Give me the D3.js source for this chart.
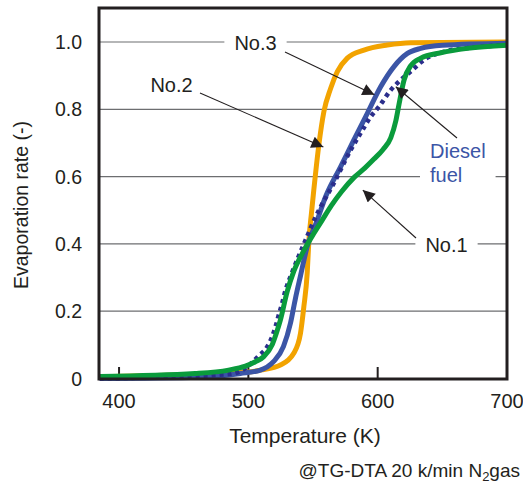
<!DOCTYPE html>
<html><head><meta charset="utf-8">
<script src="https://cdn.jsdelivr.net/npm/d3@7"></script>
<style>body{margin:0;background:#fff}svg{display:block}text{font-family:"Liberation Sans",Arial,sans-serif;fill:#231f20}</style>
</head><body><svg id="c" width="523" height="486"></svg>
<script>
// ---- data ----
const xTicks = [400, 500, 600, 700];
const yTicks = [0, 0.2, 0.4, 0.6, 0.8, 1.0];
const yTickLabels = ["0", "0.2", "0.4", "0.6", "0.8", "1.0"];

const tempNo2 = [385, 500, 509.3, 524.8, 535.1, 540.3, 542.9, 545.5, 546.8, 548.8, 550.6, 554.5, 558.4, 563.6, 568.8, 576.5, 589.4, 607.5, 625.6, 700];
const rateNo2 = [0.005, 0.019, 0.025, 0.04, 0.075, 0.134, 0.213, 0.313, 0.41, 0.492, 0.56, 0.694, 0.793, 0.862, 0.912, 0.952, 0.976, 0.991, 0.998, 1.0];

const tempNo3 = [385, 462.8, 493.8, 509.3, 519.4, 527.1, 532.6, 536.4, 540.3, 545.5, 553.3, 559.7, 571.3, 581.6, 592, 602.3, 612.6, 623, 633.3, 650, 700];
const rateNo3 = [0.0, 0.004, 0.015, 0.025, 0.05, 0.095, 0.165, 0.238, 0.305, 0.392, 0.471, 0.54, 0.629, 0.709, 0.788, 0.867, 0.927, 0.966, 0.981, 0.99, 0.996];

const tempDiesel = [385, 486, 497.7, 508, 514.5, 518.4, 521, 523.5, 526.1, 528.7, 532.6, 544.2, 552, 567.4, 579.1, 586.8, 594.6, 601, 610.1, 617.8, 626.9, 635.9, 650, 670, 700];
const rateDiesel = [0.0, 0.013, 0.031, 0.067, 0.094, 0.124, 0.154, 0.189, 0.223, 0.262, 0.303, 0.411, 0.48, 0.59, 0.679, 0.729, 0.778, 0.808, 0.857, 0.887, 0.917, 0.947, 0.97, 0.982, 0.991];

const tempNo1 = [385, 458.9, 484.7, 497.7, 505.4, 511.9, 518.4, 521.7, 524.8, 530, 535.1, 542.9, 550.6, 557, 564, 572, 581.6, 590, 597.1, 604, 610.1, 614, 616.5, 620.4, 625.6, 633.3, 648.8, 669.5, 700];
const rateNo1 = [0.006, 0.015, 0.025, 0.037, 0.05, 0.065, 0.1, 0.135, 0.174, 0.258, 0.318, 0.38, 0.431, 0.47, 0.513, 0.555, 0.597, 0.625, 0.652, 0.68, 0.715, 0.765, 0.815, 0.887, 0.93, 0.952, 0.968, 0.981, 0.99];

const seriesNames = ["No.2", "No.3", "Diesel fuel", "No.1"];
const seriesColors = ["#f2a300", "#3b55a6", "#2b2e8c", "#0a9b3c"];

// ---- layout ----
const svg = d3.select("#c");
const L = 99, R = 507, T = 8, B = 379;
const x = d3.scaleLinear().domain([384.5, 700]).range([L, R]);
const y = d3.scaleLinear().domain([0, 1]).range([378.5, 42]);

// gridlines
svg.append("g").selectAll("line").data(yTicks.filter(d => d > 0)).join("line")
  .attr("x1", L).attr("x2", R).attr("y1", d => y(d)).attr("y2", d => y(d))
  .attr("stroke", "#6d6e70").attr("stroke-width", 1.2);

// label background gaps (white boxes behind labels on gridlines)
const gaps = svg.append("g");

// bottom ticks (inside, pointing up)
svg.append("g").selectAll("line").data(xTicks.slice(0, 3)).join("line")
  .attr("x1", d => x(d)).attr("x2", d => x(d)).attr("y1", B).attr("y2", B - 12)
  .attr("stroke", "#231f20").attr("stroke-width", 2);

// curves
const line = d3.line().x(d => x(d[0])).y(d => y(d[1])).curve(d3.curveMonotoneX);
const zip = (a, b) => a.map((v, i) => [v, b[i]]);
const curves = [
  {t: tempNo2, r: rateNo2, c: seriesColors[0], dash: null, w: 5},
  {t: tempNo3, r: rateNo3, c: seriesColors[1], dash: null, w: 5},
  {t: tempDiesel, r: rateDiesel, c: seriesColors[2], dash: "4,4", w: 4.5},
  {t: tempNo1, r: rateNo1, c: seriesColors[3], dash: null, w: 5}
];
svg.append("g").selectAll("path").data(curves).join("path")
  .attr("d", d => line(zip(d.t, d.r)))
  .attr("fill", "none").attr("stroke", d => d.c).attr("stroke-width", d => d.w)
  .attr("stroke-dasharray", d => d.dash).attr("stroke-linejoin", "round");

// frame
svg.append("rect").attr("x", L).attr("y", T).attr("width", R - L).attr("height", B - T)
  .attr("fill", "none").attr("stroke", "#231f20").attr("stroke-width", 3);

// axis tick labels
svg.append("g").selectAll("text").data(yTicks).join("text")
  .attr("x", 82).attr("y", d => y(d)).attr("dy", "0.36em").attr("text-anchor", "end")
  .attr("font-size", 19.5).text((d, i) => yTickLabels[i]);
svg.append("g").selectAll("text").data(xTicks).join("text")
  .attr("x", d => x(d)).attr("y", 408).attr("text-anchor", "middle")
  .attr("font-size", 20).text(d => d);

svg.append("text").attr("x", 305).attr("y", 443).attr("text-anchor", "middle")
  .attr("font-size", 21).text("Temperature (K)");
svg.append("text").attr("transform", "translate(28,205) rotate(-90)").attr("text-anchor", "middle")
  .attr("font-size", 19.5).text("Evaporation rate (-)");

const note = svg.append("text").attr("x", 520).attr("y", 477).attr("text-anchor", "end").attr("font-size", 19);
note.append("tspan").text("@TG-DTA 20 k/min N");
note.append("tspan").attr("font-size", 13).attr("dy", 4).text("2");
note.append("tspan").attr("dy", -4).text("gas");

// arrow marker
svg.append("defs").append("marker").attr("id", "ah").attr("viewBox", "0 0 10 10")
  .attr("refX", 10).attr("refY", 5).attr("markerWidth", 16).attr("markerHeight", 12)
  .attr("markerUnits", "userSpaceOnUse").attr("orient", "auto")
  .append("path").attr("d", "M0,0 L10,5 L0,10 Z").attr("fill", "#231f20");

// annotations: label text, position, arrow start (px) and arrow tip (data space)
const annots = [
  {text: ["No.3"], tx: 255.5, ty: 50, color: "#231f20", from: [285, 52], to: [597.5, 0.843]},
  {text: ["No.2"], tx: 171.5, ty: 92, color: "#231f20", from: [200, 93], to: [558, 0.688]},
  {text: ["Diesel", "fuel"], tx: 430, ty: 158, color: "#3b55a6", anchor: "start", from: [457, 138], to: [614, 0.867]},
  {text: ["No.1"], tx: 446.5, ty: 251.5, color: "#231f20", from: [416, 238], to: [588.5, 0.56]}
];
annots.forEach(a => {
  const t = svg.append("text").attr("x", a.tx).attr("y", a.ty).attr("font-size", 20)
    .attr("text-anchor", a.anchor || "middle").style("fill", a.color);
  a.text.forEach((s, i) => t.append("tspan").attr("x", a.tx).attr("dy", i ? 24 : 0).text(s));
  const bb = t.node().getBBox();
  gaps.append("rect").attr("x", bb.x - 10).attr("y", bb.y).attr("width", bb.width + 20).attr("height", bb.height)
    .attr("fill", "#fff");
  svg.append("line").attr("x1", a.from[0]).attr("y1", a.from[1])
    .attr("x2", x(a.to[0])).attr("y2", y(a.to[1]))
    .attr("stroke", "#231f20").attr("stroke-width", 1.1).attr("marker-end", "url(#ah)");
});
</script></body></html>
